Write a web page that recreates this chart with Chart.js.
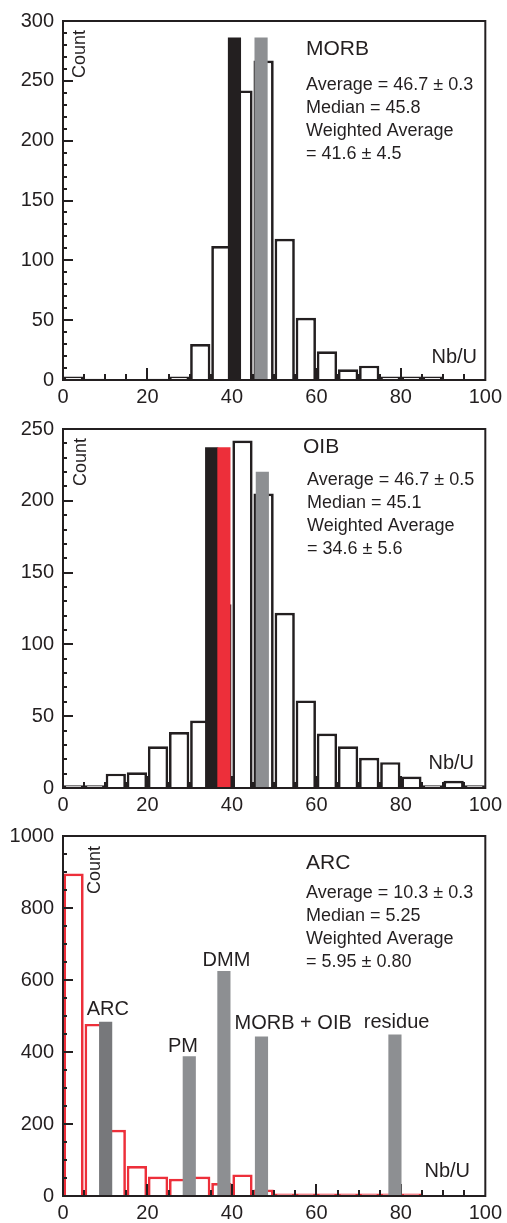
<!DOCTYPE html>
<html><head><meta charset="utf-8">
<script src="https://cdn.jsdelivr.net/npm/chart.js@4.4.1/dist/chart.umd.min.js"></script>
<style>
html,body{margin:0;padding:0;background:#fff;width:507px;height:1223px;overflow:hidden}
canvas{position:absolute;left:0}
</style></head>
<body>
<canvas id="cA" width="507" height="408" style="top:0px"></canvas>
<canvas id="cB" width="507" height="407" style="top:408px"></canvas>
<canvas id="cC" width="507" height="408" style="top:815px"></canvas>
<script>
// ---------- data ----------
const binCenters = [2.5,7.5,12.5,17.5,22.5,27.5,32.5,37.5,42.5,47.5,52.5,57.5,62.5,67.5,72.5,77.5,82.5,87.5,92.5,97.5];
const xTickValues = [0,20,40,60,80,100];
const yTicksMORB = [0,50,100,150,200,250,300];
const yTicksOIB = [0,50,100,150,200,250];
const yTicksARC = [0,200,400,600,800,1000];

const morbCounts = [3,1,0,0,1,3,30,112,242,267,118,52,24,9,12,3,3,3,0,0];
const oibCounts  = [2,2,10,11,29,39,47,128,242,205,122,61,38,29,21,18,8,2,5,2];
const arcCounts  = [896,478,184,83,54,48,54,36,60,18,7,7,7,7,7,7,7,0,0,0];

const morbMarkX = [40.6,46.9];
const morbMarkH = [286,286];
const oibMarkX = [35.2,38.1,47.2];
const oibMarkH = [237,237,220];
const arcRefNames = ['ARC','PM','DMM','MORB + OIB','residue'];
const arcRefX = [10.1,29.9,38.1,47.0,78.6];
const arcRefH = [483,387,624,442,448];

const statsMORB = ['Average = 46.7 ± 0.3','Median = 45.8','Weighted Average','= 41.6 ± 4.5'];
const statsOIB  = ['Average = 46.7 ± 0.5','Median = 45.1','Weighted Average','= 34.6 ± 5.6'];
const statsARC  = ['Average = 10.3 ± 0.3','Median = 5.25','Weighted Average','= 5.95 ± 0.80'];

// ---------- style ----------
const INK = '#231f20';
const GRAY = '#8d8f92';
const DGRAY = '#77787b';
const RED = '#ed2f3a';
const FONT = "'Liberation Sans', Arial, Helvetica, sans-serif";

function pts(xs, ys){ return xs.map((x,i)=>({x:x, y:ys[i]})); }

function makePanel(canvasId, o){
  const decor = {
    id:'decor',
    afterDatasetDraw(chart, args){
      if (args.index !== o.histIndex) return;
      const ctx = chart.ctx, xs = chart.scales.x, ys = chart.scales.y, a = chart.chartArea;
      ctx.save();
      ctx.strokeStyle = INK; ctx.lineWidth = 2;
      ctx.beginPath();
      for (let v = 5; v < 100; v += 5){
        const px = Math.round(xs.getPixelForValue(v));
        const len = (v % 20 === 0) ? 12 : 6;
        ctx.moveTo(px, a.bottom); ctx.lineTo(px, a.bottom - len);
      }
      for (let v = o.yMinor; v < o.yMax; v += o.yMinor){
        const py = Math.round(ys.getPixelForValue(v));
        const len = (v % o.yMajor === 0) ? 10 : 4;
        ctx.moveTo(a.left, py); ctx.lineTo(a.left + len, py);
      }
      ctx.stroke();
      ctx.restore();
    },
    afterDatasetsDraw(chart){
      const ctx = chart.ctx, a = chart.chartArea, xs = chart.scales.x, ys = chart.scales.y;
      ctx.save();
      ctx.strokeStyle = INK; ctx.lineWidth = 2;
      ctx.strokeRect(a.left, a.top, a.right - a.left, a.bottom - a.top);
      ctx.fillStyle = INK;
      ctx.textAlign = 'left'; ctx.textBaseline = 'alphabetic';
      ctx.font = '21px ' + FONT;
      ctx.fillText(o.title, o.titleX, a.top + o.titleDy);
      ctx.font = '18px ' + FONT;
      o.stats.forEach((s,i)=> ctx.fillText(s, o.statsX, a.top + o.statsDy + i*23));
      ctx.font = '20px ' + FONT;
      ctx.textAlign = 'right';
      ctx.fillText('Nb/U', o.nbuX, a.bottom - o.nbuDy);
      ctx.save();
      ctx.translate(o.countX, a.top + o.countDy);
      ctx.rotate(-Math.PI/2);
      ctx.font = '18px ' + FONT;
      ctx.textAlign = 'center'; ctx.textBaseline = 'middle';
      ctx.fillText('Count', 0, 0);
      ctx.restore();
      if (o.refNames){
        ctx.font = '20px ' + FONT;
        ctx.textAlign = 'center'; ctx.textBaseline = 'alphabetic';
        o.refNames.forEach((n,i)=>{
          const px = xs.getPixelForValue(o.refLabelX[i]);
          const py = ys.getPixelForValue(o.refH[i]) - o.refGap[i];
          ctx.fillText(n, px, py);
        });
      }
      ctx.restore();
    }
  };

  return new Chart(document.getElementById(canvasId), {
    type:'bar',
    data:{ datasets: o.datasets },
    options:{
      responsive:false, animation:false,
      layout:{ padding:{ top:o.padTop, right:20, bottom:0, left:0 } },
      plugins:{ legend:{display:false}, tooltip:{enabled:false} },
      scales:{
        x:{ type:'linear', min:0, max:100, position:'bottom', offset:false,
            grid:{display:false, drawTicks:false, offset:false}, border:{display:false},
            afterBuildTicks:(s)=>{ s.ticks = xTickValues.map(v=>({value:v})); },
            afterFit:(s)=>{ s.height = o.xAxisH; },
            ticks:{ color:INK, font:{family:FONT, size:20}, padding:5, maxRotation:0, autoSkip:false,
                    callback:(v)=>String(v) } },
        x2:{ type:'linear', min:0, max:100, display:false, offset:false, grid:{offset:false} },
        y:{ min:0, max:o.yMax, position:'left',
            grid:{display:false, drawTicks:false}, border:{display:false},
            afterBuildTicks:(s)=>{ s.ticks = o.yTicks.map(v=>({value:v})); },
            afterFit:(s)=>{ s.width = 63; },
            ticks:{ color:INK, font:{family:FONT, size:20}, padding:9, callback:(v)=>String(v) } }
      }
    },
    plugins:[decor]
  });
}

function histDataset(counts, color){
  return { data: pts(binCenters, counts), xAxisID:'x', yAxisID:'y',
    backgroundColor:'#ffffff', borderColor:color, borderWidth:2.7,
    barPercentage:0.96, categoryPercentage:1, grouped:false, order:2 };
}
function markDataset(xs, hs, colors){
  return { data: pts(xs, hs), xAxisID:'x2', yAxisID:'y',
    backgroundColor:colors, borderWidth:0, barThickness:12.5,
    grouped:false, order:1 };
}

makePanel('cA', {
  histIndex:1, padTop:19, xAxisH:28, yMax:300, yTicks:yTicksMORB, yMinor:10, yMajor:50,
  title:'MORB', titleX:306, titleDy:34, stats:statsMORB, statsX:306, statsDy:69,
  nbuX:477, nbuDy:17, countX:80, countDy:33,
  datasets:[ markDataset(morbMarkX, morbMarkH, [INK, GRAY]), histDataset(morbCounts, INK) ]
});
makePanel('cB', {
  histIndex:1, padTop:20, xAxisH:27, yMax:250, yTicks:yTicksOIB, yMinor:10, yMajor:50,
  title:'OIB', titleX:303, titleDy:24, stats:statsOIB, statsX:307, statsDy:56,
  nbuX:474, nbuDy:19, countX:81, countDy:33,
  datasets:[ markDataset(oibMarkX, oibMarkH, [INK, RED, GRAY]), histDataset(oibCounts, INK) ]
});
makePanel('cC', {
  histIndex:1, padTop:18, xAxisH:27, yMax:1000, yTicks:yTicksARC, yMinor:50, yMajor:200,
  title:'ARC', titleX:306, titleDy:33, stats:statsARC, statsX:306, statsDy:62,
  nbuX:470, nbuDy:19, countX:95, countDy:34,
  refNames:arcRefNames, refLabelX:[10.6,28.4,38.7,54.5,79.0], refH:arcRefH, refGap:[7,5,5,8,7],
  datasets:[ markDataset(arcRefX, arcRefH, [DGRAY, GRAY, GRAY, GRAY, GRAY]), histDataset(arcCounts, RED) ]
});
</script>
</body></html>
